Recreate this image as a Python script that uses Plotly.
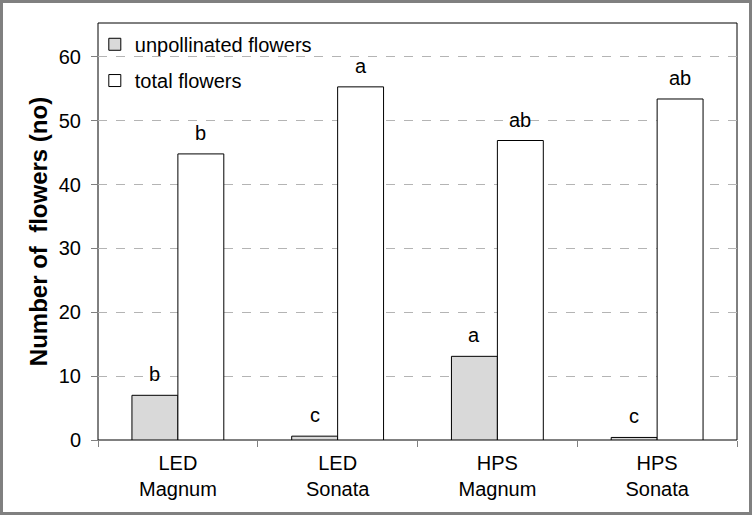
import plotly.graph_objects as go

categories = ["LED<br>Magnum", "LED<br>Sonata", "HPS<br>Magnum", "HPS<br>Sonata"]
unpollinated = [7.0, 0.6, 13.1, 0.4]
total = [44.8, 55.3, 46.9, 53.4]
letters_unpoll = ["b", "c", "a", "c"]
letters_total = ["b", "a", "ab", "ab"]
y_ticks = [0, 10, 20, 30, 40, 50, 60]

W, H = 752, 515
L, R, T, B = 98, 15, 23, 75
pw, ph = W - L - R, H - T - B

font = "Liberation Sans, Arial, sans-serif"
FS = 20

fig = go.Figure()
fig.add_trace(go.Bar(x=categories, y=unpollinated, name="unpollinated flowers",
                     marker=dict(color="#d9d9d9", line=dict(color="black", width=1)),
                     legend="legend"))
fig.add_trace(go.Bar(x=categories, y=total, name="total flowers",
                     marker=dict(color="white", line=dict(color="black", width=1)),
                     legend="legend2"))

for c, v, t in zip(categories, unpollinated, letters_unpoll):
    fig.add_annotation(x=c, y=v, text=t, showarrow=False, xshift=-23, yshift=8,
                       yanchor="bottom", font=dict(size=FS, color="black", family=font))
for c, v, t in zip(categories, total, letters_total):
    fig.add_annotation(x=c, y=v, text=t, showarrow=False, xshift=23, yshift=8,
                       yanchor="bottom", font=dict(size=FS, color="black", family=font))

# plot area border
fig.add_shape(type="rect", xref="paper", yref="paper", x0=0, x1=1, y0=0, y1=1,
              line=dict(color="black", width=1), layer="below")
# outer figure border
fig.add_shape(type="rect", xref="paper", yref="paper",
              x0=-(L - 1.5) / pw, x1=1 + (R - 1.5) / pw,
              y0=-(B - 1.5) / ph, y1=1 + (T - 1.5) / ph,
              line=dict(color="#808080", width=3))

fig.update_layout(
    width=W, height=H,
    margin=dict(l=L, r=R, t=T, b=B),
    paper_bgcolor="white", plot_bgcolor="white",
    barmode="group", bargap=0.425, bargroupgap=0,
    font=dict(family=font, size=FS, color="black"),
    legend=dict(x=-0.005, y=0.949, xanchor="left", yanchor="middle",
                bgcolor="rgba(0,0,0,0)", font=dict(size=FS)),
    legend2=dict(x=-0.005, y=0.862, xanchor="left", yanchor="middle",
                 bgcolor="rgba(0,0,0,0)", font=dict(size=FS)),
    showlegend=True,
)
fig.update_xaxes(showline=True, linecolor="#808080", linewidth=1,
                 ticks="outside", tickson="boundaries", ticklen=6, tickcolor="#808080",
                 showgrid=False, tickfont=dict(size=FS), ticklabelstandoff=5)
fig.update_yaxes(range=[0, 65.3], tickvals=y_ticks, showline=True, linecolor="#808080",
                 linewidth=1, ticks="outside", ticklen=6, tickcolor="#808080",
                 showgrid=True, gridcolor="#b4b4b4", griddash="dash", gridwidth=1,
                 zeroline=False, tickfont=dict(size=FS), ticklabelstandoff=6,
                 title=dict(text="<b>Number of  flowers (no)</b>", font=dict(size=24), standoff=4))

fig.write_html("out.html", config={"displayModeBar": False},
               post_script="document.body.style.margin='0';document.body.style.overflow='hidden';")
